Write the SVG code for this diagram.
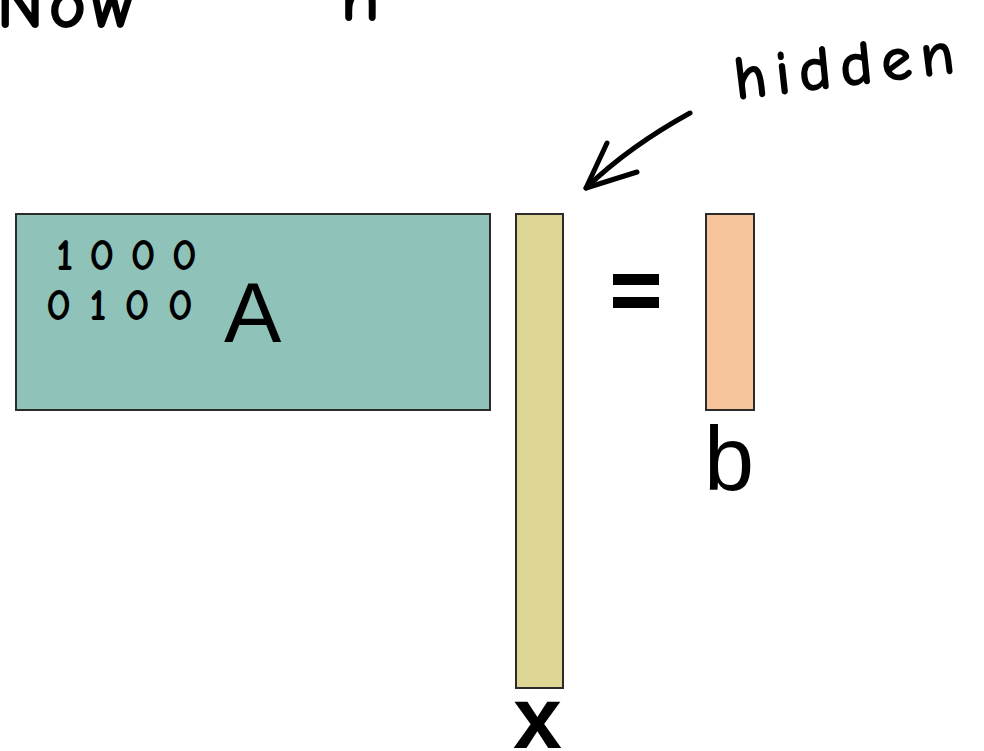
<svg xmlns="http://www.w3.org/2000/svg" width="984" height="751" viewBox="0 0 984 751">
<style>
.box{stroke:#2b2b2b;stroke-width:2}
.lbl{font-family:"Liberation Sans",Arial,sans-serif;fill:#000}
.hand{font-family:"Comic Neue","DejaVu Sans",sans-serif;font-weight:bold;fill:#000}
.ink{fill:none;stroke:#000;stroke-width:5;stroke-linecap:round;stroke-linejoin:round}
</style>
<rect width="984" height="751" fill="#fff"/>
<g id="title">
<text class="hand" x="-4" y="28" font-size="74" letter-spacing="4">Now</text>
<text class="hand" x="340" y="21" font-size="74">n</text>
</g>
<g id="hidden-label">
<text class="hand" x="736" y="100" font-size="64" letter-spacing="8" transform="rotate(-7 736 100)">hidden</text>
</g>
<g id="matrix-A">
<rect class="box" x="16" y="214" width="474" height="196" fill="#8fc3b9"/>
<text class="hand" x="56" y="270" font-size="44" letter-spacing="16">1000</text>
<text class="hand" x="46" y="320" font-size="44" letter-spacing="18">0100</text>
<text class="lbl" x="224" y="342" font-size="86">A</text>
</g>
<g id="vector-x">
<rect class="box" x="516" y="214" width="47" height="474" fill="#ddd694"/>
<text class="lbl" x="513" y="748" font-size="88" font-weight="bold">x</text>
</g>
<g id="equals">
<rect x="613" y="274" width="46" height="11" fill="#000"/>
<rect x="613" y="297" width="46" height="11" fill="#000"/>
</g>
<g id="vector-b">
<rect class="box" x="706" y="214" width="48" height="196" fill="#f6c59b"/>
<text class="lbl" x="704" y="490" font-size="90">b</text>
</g>
<g id="connectors">
<path class="ink" d="M690 113 C650 135 615 160 586 188"/>
<path class="ink" d="M607 143 L586 188 L637 172"/>
</g>
</svg>
